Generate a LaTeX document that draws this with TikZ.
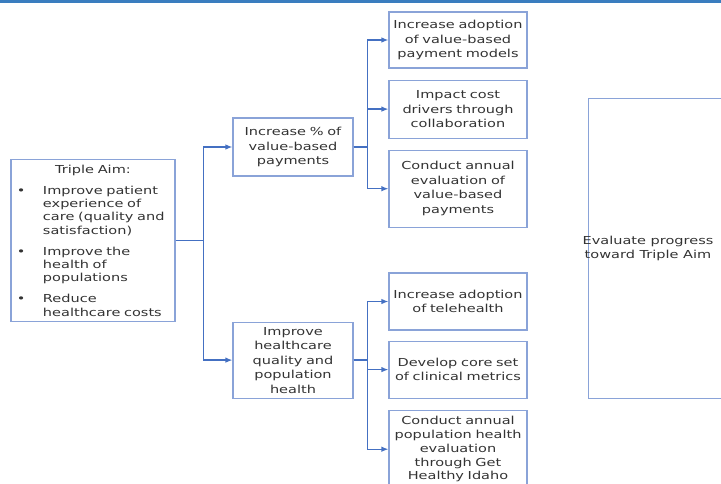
\documentclass[tikz,border=0pt]{standalone}
\usepackage{fontspec}
\setmainfont{DejaVu Sans}[FakeStretch=1.32]
\usetikzlibrary{positioning,arrows.meta}
\definecolor{boxblue}{HTML}{8AA3D8}
\definecolor{linkblue}{HTML}{4470C2}
\definecolor{barblue}{HTML}{3A7DBF}
\definecolor{txtgray}{HTML}{333333}
\newcommand{\aimpoint}[1]{\par\vspace{7.7pt}\noindent\hangindent=28pt\hangafter=1\makebox[28pt][l]{\hspace{2pt}\textbullet}#1\par}

\begin{document}
\begin{tikzpicture}[x=1pt, y=-1pt, node distance={11pt},
  main/.style = {draw=boxblue, line width=1.1pt, align=center, inner sep=4pt, text=txtgray, font=\fontsize{11}{14.5}\selectfont},
  mid/.style = {main, text width=112pt},
  leaf/.style = {main, text width=130pt},
  link/.style = {draw=linkblue, line width=1.3pt, -{Latex[length=7pt,width=5.5pt]}}]
\useasboundingbox (0,0) rectangle (721,483);
\clip (0,0) rectangle (721,483);
\fill[barblue] (0,0) rectangle (721,2.5);

\node[main, text width=156pt, minimum height=162pt, align=left, font=\fontsize{11}{13.3}\selectfont] (aim) at (93,240.5)
  {{\centering Triple Aim:\par}
   \aimpoint{Improve patient\newline experience of\newline care (quality and\newline satisfaction)}
   \aimpoint{Improve the\newline health of\newline populations}
   \aimpoint{Reduce\newline healthcare costs}};

\node[mid, minimum height=58pt] (pay) at (293,147) {Increase \% of\\value-based\\payments};
\node[mid, minimum height=76pt] (qual) [below=145pt of pay] {Improve\\healthcare\\quality and\\population\\health};

\node[leaf, minimum height=56pt] (adopt) at (458,40) {Increase adoption\\of value-based\\payment models};
\node[leaf, minimum height=58pt] (cost) [below=of adopt] {Impact cost\\drivers through\\collaboration};
\node[leaf, minimum height=77pt] (evalpay) [below=of cost] {Conduct annual\\evaluation of\\value-based\\payments};

\node[leaf, minimum height=57pt] (tele) at (458,301.5) {Increase adoption\\of telehealth};
\node[leaf, minimum height=57pt] (metrics) [below=10pt of tele] {Develop core set\\of clinical metrics};
\node[leaf, minimum height=78pt, font=\fontsize{11}{13.8}\selectfont] (evalpop) [below=of metrics] {Conduct annual\\population health\\evaluation\\through Get\\Healthy Idaho};

\node[draw=boxblue, line width=1.1pt, minimum width=180pt, minimum height=300pt, anchor=north west] (evalbox) at (588,98) {};
\node[align=center, text=txtgray, font=\fontsize{11}{14.5}\selectfont] (evaltxt) at (648,248.5) {Evaluate progress\\toward Triple Aim};

\draw[link] (aim.east) -- ++(28,0) |- (pay.west);
\draw[link] (aim.east) -- ++(28,0) |- (qual.west);

\draw[link] (pay.east) -- ++(14,0) |- (adopt.west);
\draw[link] (pay.east) -- ++(14,0) |- (cost.west);
\draw[link] (pay.east) -- ++(14,0) |- (evalpay.west);

\draw[link] (qual.east) -- ++(14,0) |- (tele.west);
\draw[link] (qual.east) -- ++(14,0) |- (metrics.west);
\draw[link] (qual.east) -- ++(14,0) |- (evalpop.west);

\end{tikzpicture}
\end{document}
